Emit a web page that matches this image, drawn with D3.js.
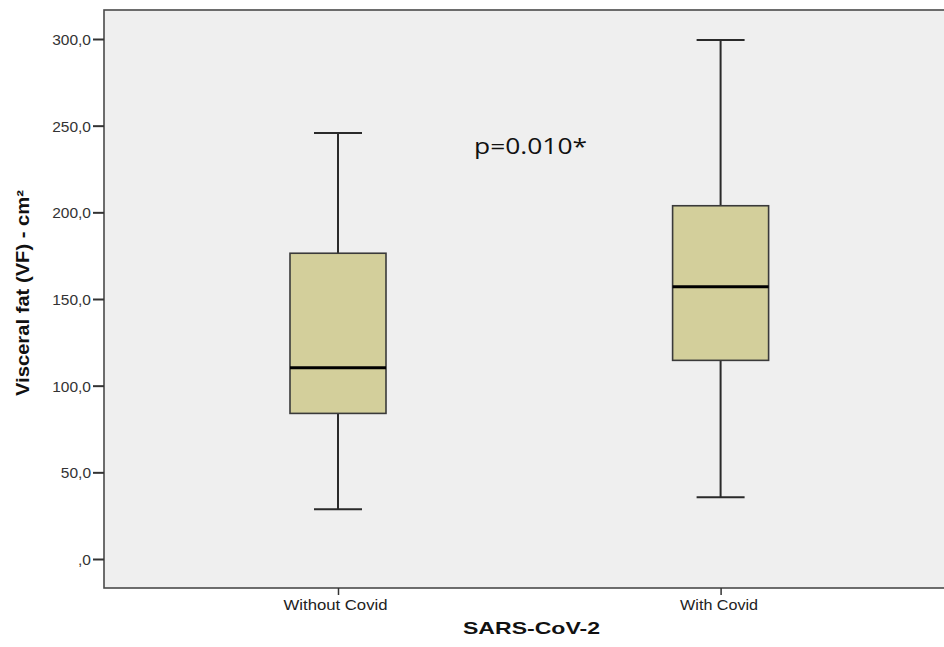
<!DOCTYPE html>
<html><head><meta charset="utf-8">
<script src="https://cdn.jsdelivr.net/npm/d3@7"></script>
<style>body{margin:0;background:#fff}svg{display:block}</style>
</head><body>
<svg id="c" width="944" height="647"></svg>
<script>
const categories = ["Without Covid", "With Covid"];
const whiskerLow  = [28.7, 35.6];
const q1          = [84.0, 114.6];
const medians     = [110.4, 157.1];
const q3          = [176.4, 203.8];
const whiskerHigh = [245.8, 299.4];
const yTicks = [0, 50, 100, 150, 200, 250, 300];
const yTickLabels = [",0", "50,0", "100,0", "150,0", "200,0", "250,0", "300,0"];
const pText = "p=0.010*";

(function () {
const svg = d3.select("#c");
const pLeft = 104, pTop = 10, pBottom = 588, pRight = 960;
const y = d3.scaleLinear().domain([0, 300]).range([559, 39]);
const x = d3.scalePoint().domain(categories).range([338, 720.6]);

svg.append("rect").attr("x", pLeft).attr("y", pTop).attr("width", pRight - pLeft).attr("height", pBottom - pTop)
  .attr("fill", "#efefef").attr("stroke", "#4a4a4a").attr("stroke-width", 1.6);

// Y axis
const yAxis = d3.axisLeft(y).tickValues(yTicks).tickSize(11).tickSizeOuter(0)
  .tickFormat((d, i) => yTickLabels[i]);
const gy = svg.append("g").attr("transform", `translate(${pLeft},0)`).call(yAxis);
gy.select(".domain").remove();
gy.selectAll(".tick line").attr("stroke", "#333").attr("stroke-width", 2);
gy.selectAll(".tick text").attr("x", -13).attr("dy", "0.36em")
  .attr("font-family", "Liberation Sans, Arial, sans-serif").attr("font-size", 15.5).attr("fill", "#333");

// X axis
const xAxis = d3.axisBottom(x).tickSize(7).tickSizeOuter(0);
const gx = svg.append("g").attr("transform", `translate(0,${pBottom})`).call(xAxis);
gx.select(".domain").remove();
gx.selectAll(".tick line").attr("stroke", "#333").attr("stroke-width", 1.5);
gx.selectAll(".tick text").attr("y", 12).attr("dy", "0.71em")
  .attr("font-family", "Liberation Sans, Arial, sans-serif").attr("font-size", 14.5).attr("fill", "#222")
  .attr("textLength", 104).attr("lengthAdjust", "spacingAndGlyphs")
  .attr("x", -3);
gx.selectAll(".tick text").filter(d => d === "With Covid").attr("textLength", 78).attr("x", -2);

// Boxes
const boxW = 96, capW = 48;
const data = categories.map((c, i) => ({c, lo: whiskerLow[i], q1: q1[i], med: medians[i], q3: q3[i], hi: whiskerHigh[i]}));
const g = svg.append("g");
data.forEach(d => {
  const cx = x(d.c);
  g.append("line").attr("x1", cx).attr("x2", cx).attr("y1", y(d.hi)).attr("y2", y(d.q3)).attr("stroke", "#2a2a2a").attr("stroke-width", 2);
  g.append("line").attr("x1", cx).attr("x2", cx).attr("y1", y(d.q1)).attr("y2", y(d.lo)).attr("stroke", "#2a2a2a").attr("stroke-width", 2);
  g.append("line").attr("x1", cx - capW/2).attr("x2", cx + capW/2).attr("y1", y(d.hi)).attr("y2", y(d.hi)).attr("stroke", "#2a2a2a").attr("stroke-width", 2);
  g.append("line").attr("x1", cx - capW/2).attr("x2", cx + capW/2).attr("y1", y(d.lo)).attr("y2", y(d.lo)).attr("stroke", "#2a2a2a").attr("stroke-width", 2);
  g.append("rect").attr("x", cx - boxW/2).attr("width", boxW).attr("y", y(d.q3)).attr("height", y(d.q1) - y(d.q3))
    .attr("fill", "#d3cf9b").attr("stroke", "#3a3a3a").attr("stroke-width", 1.6);
  g.append("line").attr("x1", cx - boxW/2).attr("x2", cx + boxW/2).attr("y1", y(d.med)).attr("y2", y(d.med)).attr("stroke", "#000").attr("stroke-width", 3);
});

// p-value
svg.append("text").attr("x", 474).attr("y", 153.5).text(pText)
  .attr("font-family", "Open Sans, Noto Sans, sans-serif").attr("font-size", 22).attr("fill", "#111")
  .attr("textLength", 113).attr("lengthAdjust", "spacingAndGlyphs");

// Axis titles
svg.append("text").attr("transform", "translate(29,293) rotate(-90)").attr("text-anchor", "middle")
  .text("Visceral fat (VF) - cm²")
  .attr("font-family", "Liberation Sans Narrow, Liberation Sans, Arial, sans-serif").attr("font-weight", "bold")
  .attr("font-size", 18).attr("fill", "#111").attr("textLength", 206).attr("lengthAdjust", "spacingAndGlyphs");
svg.append("text").attr("x", 531.5).attr("y", 633.5).attr("text-anchor", "middle").text("SARS-CoV-2")
  .attr("font-family", "Liberation Sans, Arial, sans-serif").attr("font-weight", "bold")
  .attr("font-size", 17).attr("fill", "#111").attr("textLength", 137).attr("lengthAdjust", "spacingAndGlyphs");
})();
</script>
</body></html>
